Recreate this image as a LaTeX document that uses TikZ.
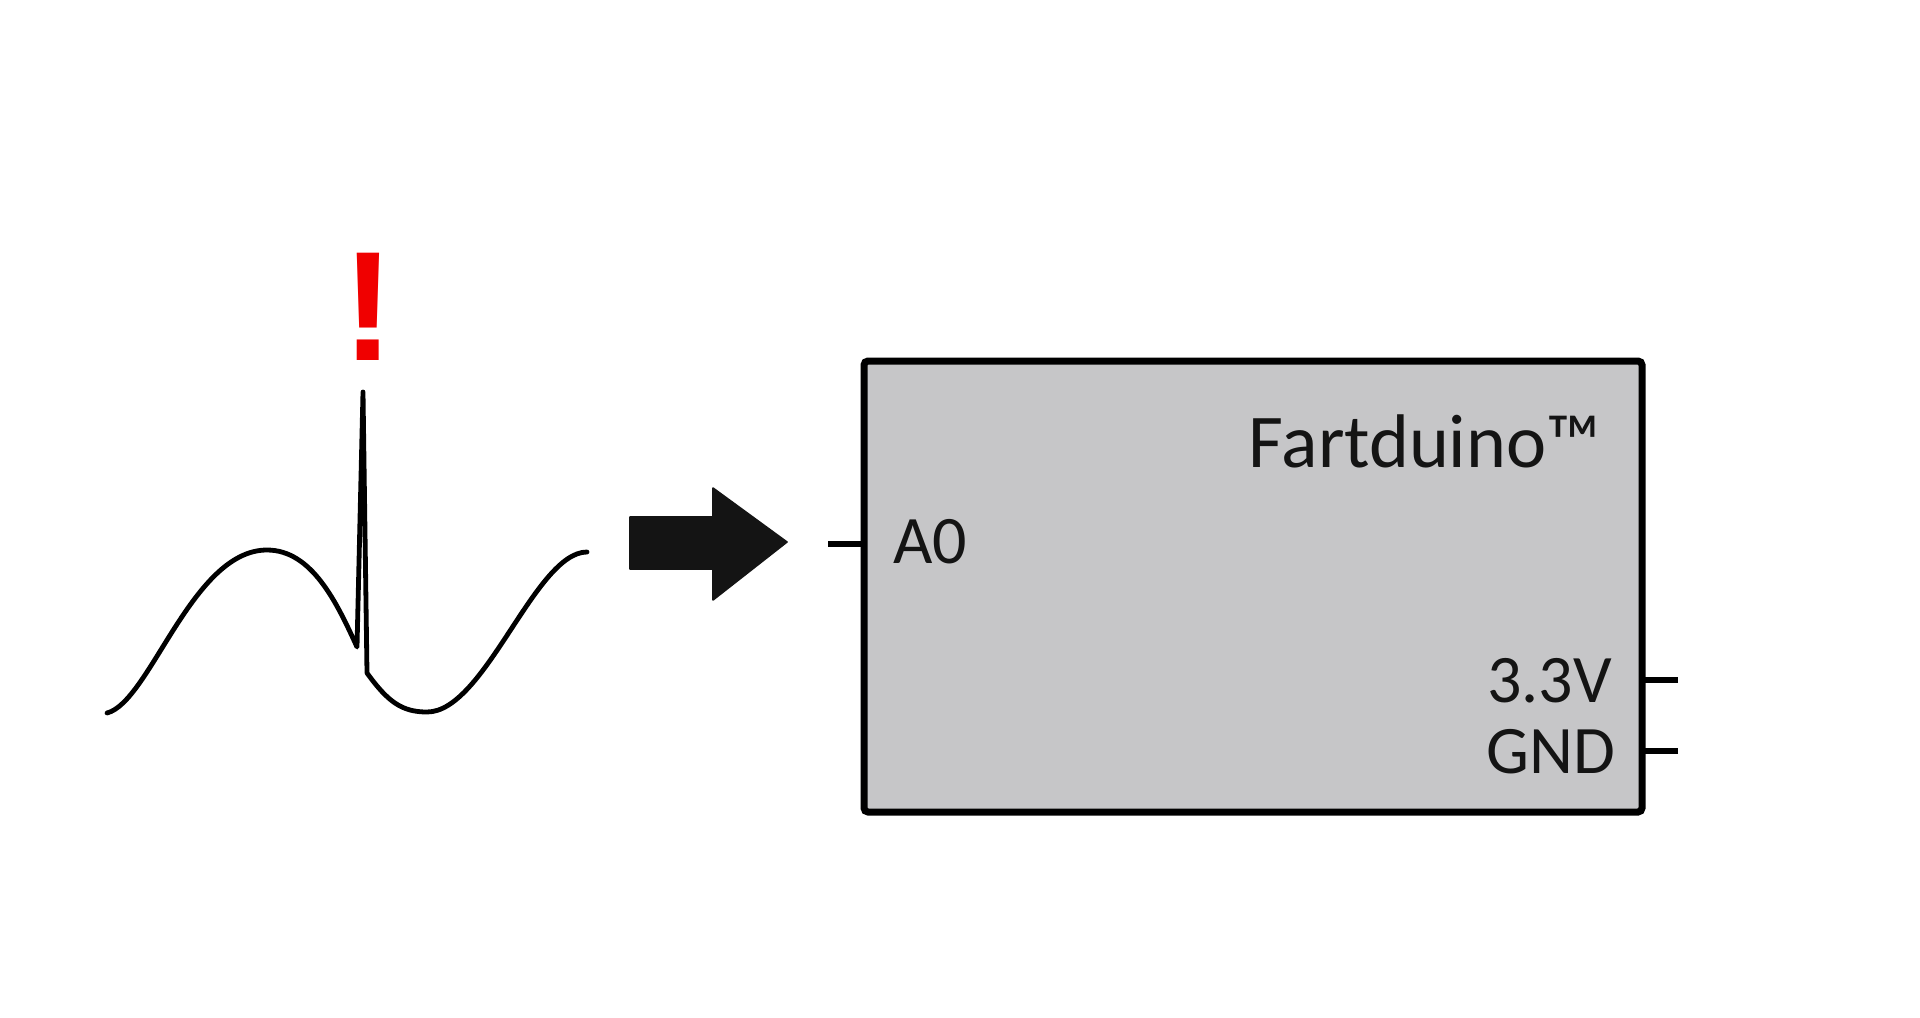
\documentclass[tikz,border=0pt]{standalone}
\usepackage{fontspec}
\setmainfont{Carlito}
\newfontfamily\alertfont{Liberation Sans}
\definecolor{boardgray}{RGB}{198,198,200}
\definecolor{inkblack}{RGB}{20,20,20}
\definecolor{alertred}{RGB}{240,0,0}
\tikzset{
  boardbox/.style={draw=black, fill=boardgray, line width=3.5pt, rounded corners=2pt, inner sep=0pt, outer sep=0pt, minimum width=389pt, minimum height=225.5pt},
  lbl/.style={inner sep=0pt, outer sep=0pt, text=inkblack, font=\fontsize{34pt}{40pt}\selectfont},
  titlelbl/.style={lbl, font=\fontsize{38pt}{44pt}\selectfont},
  pin/.style={draw=black, line width=3pt},
  wave/.style={draw=black, line width=2.4pt, line join=round, line cap=round},
  blockarrow/.style={fill=inkblack, draw=inkblack, line width=0.8pt, line join=round}
}
\begin{document}
\begin{tikzpicture}[x=0.5pt,y=-0.5pt]
\useasboundingbox (0,0) rectangle (1920,1017);

% ECG waveform
\draw[wave] (107,713) .. controls (150,702) and (192,550) .. (267,550)
  .. controls (312,550) and (337,603) .. (357,647)
  -- (363,392) -- (367,673)
  .. controls (388,702) and (402,712) .. (427,712)
  .. controls (485,712) and (535,552) .. (587,552);

% exclamation mark
\node[inner sep=0pt, outer sep=0pt, anchor=base, text=alertred, font=\alertfont\bfseries\fontsize{78pt}{90pt}\selectfont] (alert) at (368,360) {!};

% block arrow
\fill[blockarrow] (630,517) -- (713,517) -- (713,488) -- (787,542) -- (713,600) -- (713,569) -- (630,569) -- cycle;

% board
\node[boardbox] (board) at (1253,586.5) {};
\node[titlelbl, anchor=base east] (title) at (1600,467) {Fartduino™};
\node[lbl, anchor=base west] (a0) at (893,563) {A0};
\node[lbl, anchor=base east] (v33) at (1612,702) {3.3V};
\node[lbl, anchor=base east] (gnd) at (1615,773) {GND};

% pins
\coordinate (a0end) at (828,544);
\coordinate (v33end) at (1678,680);
\coordinate (gndend) at (1678,751);
\draw[pin] (a0end) -- (a0end -| board.west);
\draw[pin] (v33end) -- (v33end -| board.east);
\draw[pin] (gndend) -- (gndend -| board.east);
\end{tikzpicture}
\end{document}
